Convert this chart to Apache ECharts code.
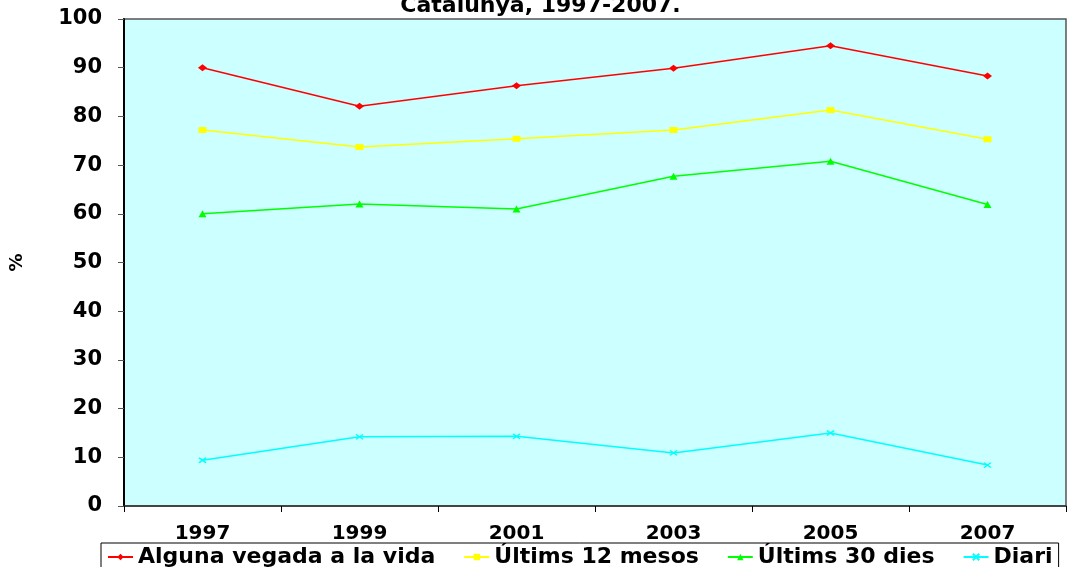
<!DOCTYPE html>
<html>
<head>
<meta charset="utf-8">
<script src="https://cdn.jsdelivr.net/npm/echarts@6/dist/echarts.min.js"></script>
<style>
  html, body { margin: 0; padding: 0; background: #fff; }
  #chart { width: 1081px; height: 567px; }
</style>
</head>
<body>
<div id="chart"></div>
<script>
// dades llegides del gràfic
const years = ['1997', '1999', '2001', '2003', '2005', '2007']
const algunaVegada = [90.0, 82.1, 86.3, 89.9, 94.5, 88.3]
const ultims12 = [77.2, 73.7, 75.4, 77.2, 81.3, 75.3]
const ultims30 = [60.0, 62.0, 61.0, 67.7, 70.8, 61.9]
const diari = [9.4, 14.2, 14.3, 10.9, 15.0, 8.4]

const font = 'DejaVu Sans'
const crossPath = 'path://M0,0L10,10M10,0L0,10'

const mkSeries = (name, data, color, symbol, size) => ({
  name,
  type: 'line',
  data,
  symbol,
  symbolSize: size,
  showAllSymbol: true,
  lineStyle: { color, width: 1.5 },
  itemStyle: { color, borderColor: color, borderWidth: symbol === crossPath ? 1.5 : 0 },
  emphasis: { disabled: true },
  animation: false
})

const chart = echarts.init(document.getElementById('chart'))

chart.setOption({
  backgroundColor: '#fff',
  textStyle: { fontFamily: font },
  title: {
    text: 'Catalunya, 1997-2007.',
    left: 'center',
    top: -10,
    textStyle: { fontFamily: font, fontWeight: 'bold', fontSize: 22, color: '#000' }
  },
  grid: {
    left: 123, right: 15, top: 19, bottom: 61,
    show: true,
    backgroundColor: '#CCFFFF',
    borderColor: '#555',
    borderWidth: 1.5
  },
  legend: {
    left: 101,
    top: 543,
    width: 1400,
    padding: [3, 6, 10, 6],
    itemGap: 28,
    itemWidth: 25,
    itemHeight: 8,
    borderColor: '#000',
    borderWidth: 1,
    textStyle: { fontFamily: font, fontWeight: 'bold', fontSize: 22, color: '#000' },
    data: ['Alguna vegada a la vida', 'Últims 12 mesos', 'Últims 30 dies', 'Diari']
  },
  xAxis: {
    type: 'category',
    data: years,
    boundaryGap: true,
    axisLine: { lineStyle: { color: '#333', width: 1.5 } },
    axisTick: { show: true, length: 6, lineStyle: { color: '#000' } },
    axisLabel: { fontFamily: font, fontWeight: 'bold', fontSize: 20, color: '#000', margin: 18 },
    splitLine: { show: false }
  },
  yAxis: {
    type: 'value',
    min: 0,
    max: 100,
    interval: 10,
    name: '%',
    nameLocation: 'middle',
    nameGap: 98,
    nameRotate: 90,
    nameTextStyle: { fontFamily: font, fontWeight: 'bold', fontSize: 18, color: '#000' },
    axisLine: { show: true, lineStyle: { color: '#000', width: 2 } },
    axisTick: { show: true, length: 6, lineStyle: { color: '#555' } },
    axisLabel: { fontFamily: font, fontWeight: 'bold', fontSize: 21, color: '#000', margin: 22 },
    splitLine: { show: false }
  },
  series: [
    mkSeries('Alguna vegada a la vida', algunaVegada, '#FF0000', 'diamond', [9, 7]),
    mkSeries('Últims 12 mesos', ultims12, '#FFFF00', 'rect', [8, 6]),
    mkSeries('Últims 30 dies', ultims30, '#00FF00', 'triangle', [8, 7]),
    mkSeries('Diari', diari, '#00FFFF', crossPath, [7, 5])
  ]
})
</script>
</body>
</html>
